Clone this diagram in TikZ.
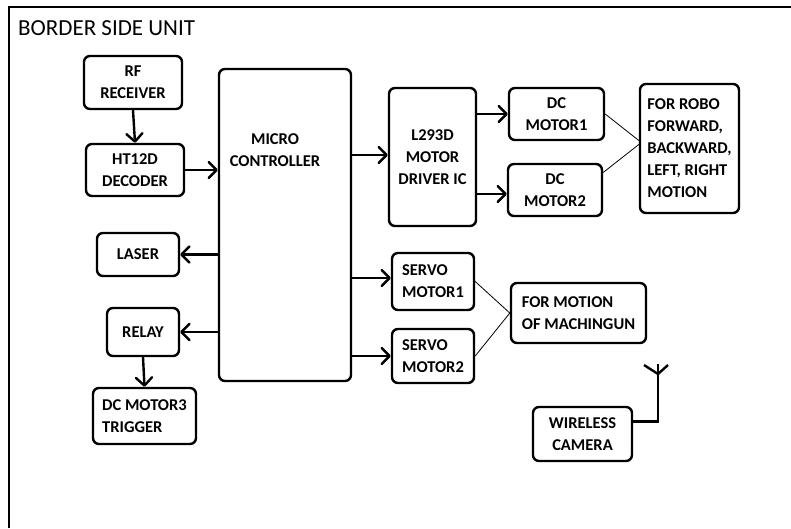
\documentclass[tikz,border=0pt]{standalone}
\usepackage{fontspec}
\setmainfont{Carlito}
\usepackage{tikz}
\usetikzlibrary{arrows.meta, positioning}
\def\boxLine{2.4pt}
\def\thinLine{0.8pt}
\def\cornerR{6pt}

\begin{document}
\begin{tikzpicture}[
    x=1pt, y=1pt,
    box/.style={draw, rectangle, rounded corners=\cornerR, line width=\boxLine,
        align=center, inner sep=2pt,
        font=\bfseries\fontsize{16.5}{22}\selectfont},
    leftbox/.style={box, align=left},
    link/.style={-{Straight Barb[length=8pt, width=16pt, round]}, line width=\boxLine},
    thinlink/.style={line width=\thinLine}
]
\useasboundingbox (0,0) rectangle (791,-528);
% frame and title
\draw[line width=2pt] (9,-528) -- (9,-7) -- (791,-7);
\node[anchor=west, inner sep=0pt, font=\fontsize{23}{27}\selectfont] (title) at (18,-28) {BORDER SIDE UNIT};

% left column
\node[box, minimum width=98pt, minimum height=53pt] (rf) at (133,-82.5) {RF\\RECEIVER};
\node[box, minimum width=98pt, minimum height=52pt] (ht) at (135,-170) {HT12D\\DECODER};
\node[box, minimum width=82pt, minimum height=43pt] (laser) at (138,-254.5) {LASER};
\node[box, minimum width=72pt, minimum height=48pt] (relay) at (143,-332) {RELAY};
\node[leftbox, minimum width=103pt, minimum height=56pt] (dcm3) at (144.5,-416) {DC MOTOR3\\TRIGGER};

% controller
\node[box, minimum width=132pt, minimum height=312pt] (mc) at (285,-225) {};
\node[font=\bfseries\fontsize{16.5}{22}\selectfont, align=center] (mctext) at (275,-150) {MICRO\\CONTROLLER};

% drive side
\node[box, minimum width=87pt, minimum height=138pt] (drv) at (432.5,-157) {L293D\\MOTOR\\DRIVER IC};
\node[box, minimum width=95pt, minimum height=52pt] (dc1) at (556.5,-114) {DC\\MOTOR1};
\node[box, minimum width=94pt, minimum height=52pt] (dc2) at (555,-190) {DC\\MOTOR2};
\node[leftbox, minimum width=99pt, minimum height=129pt] (robo) at (689.5,-148.5) {FOR ROBO\\FORWARD,\\BACKWARD,\\LEFT, RIGHT\\MOTION};

% servo side
\node[leftbox, minimum width=82pt, minimum height=57pt] (sv1) at (433,-281.5) {SERVO\\MOTOR1};
\node[leftbox, minimum width=82pt, minimum height=54pt] (sv2) at (433,-356) {SERVO\\MOTOR2};
\node[leftbox, minimum width=135pt, minimum height=60pt] (gun) at (578.5,-313) {FOR MOTION\\OF MACHINGUN};

% camera
\node[box, minimum width=99pt, minimum height=54pt] (cam) at (582.5,-434) {WIRELESS\\CAMERA};
\coordinate (ant) at (658,-374);
\coordinate (antTop) at (658,-364);
\coordinate (antL) at (644,-365);
\coordinate (antR) at (668,-365);

% arrows
\draw[link] (rf.south) -- (ht.north);
\draw[link] (ht.east) -- (ht.east -| mc.west);
\draw[link] (mc.west |- laser.east) -- (laser.east);
\draw[link] (mc.west |- relay.east) -- (relay.east);
\draw[link] (relay.south) -- (dcm3.north);
\draw[link] (mc.east |- 0,-155) -- (drv.west |- 0,-155);
\draw[link] (drv.east |- dc1.west) -- (dc1.west);
\draw[link] (drv.east |- 0,-194) -- (dc2.west |- 0,-194);
\draw[link] (mc.east |- 0,-278) -- (sv1.west |- 0,-278);
\draw[link] (mc.east |- sv2.west) -- (sv2.west);

% thin joins
\draw[thinlink] (dc1.east) -- ([yshift=8pt]robo.west);
\draw[thinlink] (dc2.20) -- ([yshift=4pt]robo.west);
\draw[thinlink] (sv1.east) -- (gun.west);
\draw[thinlink] (sv2.east) -- (gun.west);

% antenna
\draw[line width=\boxLine] (cam.14) -| (antTop);
\draw[line width=\boxLine] (antL) -- (ant) -- (antR);
\end{tikzpicture}
\end{document}
